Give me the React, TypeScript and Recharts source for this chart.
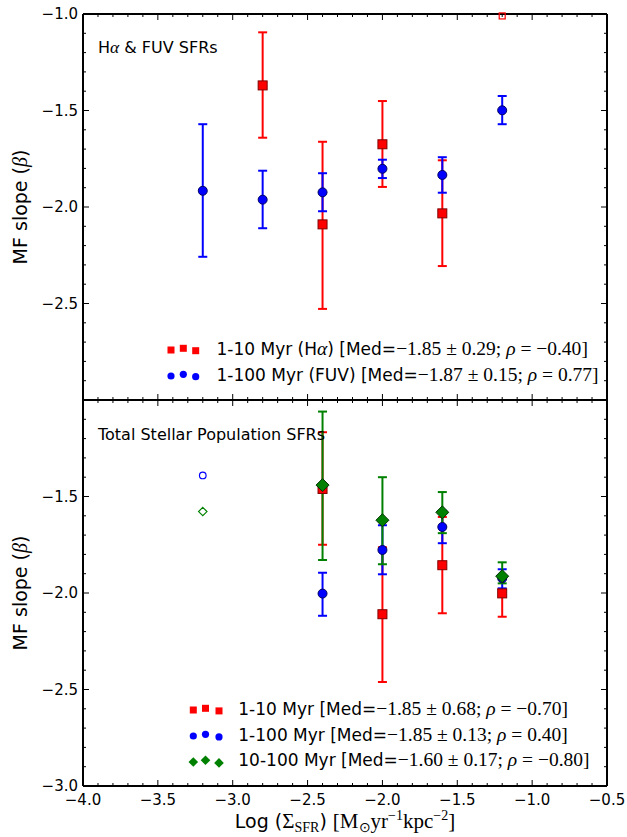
import React from 'react';
import { ScatterChart, Scatter, XAxis, YAxis, ErrorBar } from 'recharts';

const W = 627;
const H = 837;
const PLOT_LEFT = 83;
const PLOT_RIGHT = 607;
const TOP_PANEL = [14, 400];
const BOT_PANEL = [400, 786];

const SANS = '"DejaVu Sans", sans-serif';
const SERIF = '"Liberation Serif", serif';

// x axis: log Sigma_SFR
const X_DOMAIN = [-4.0, -0.5];
const X_MAJOR = [-4.0, -3.5, -3.0, -2.5, -2.0, -1.5, -1.0, -0.5];
const Y_DOMAIN = [-3.0, -1.0];
const Y_MAJOR = [-3.0, -2.5, -2.0, -1.5, -1.0];
const TOP_Y_LABELS = [-2.5, -2.0, -1.5, -1.0];
const BOT_Y_LABELS = [-3.0, -2.5, -2.0, -1.5];

// top panel: H-alpha (1-10 Myr)
const TOP_HA_X = [-2.8, -2.4, -2.0, -1.6];
const TOP_HA_Y = [-1.37, -2.09, -1.675, -2.033];
const TOP_HA_LO = [-1.641, -2.528, -1.896, -2.306];
const TOP_HA_HI = [-1.095, -1.662, -1.451, -1.758];
const TOP_HA_OPEN_X = [-1.2];
const TOP_HA_OPEN_Y = [-1.01];

// top panel: FUV (1-100 Myr)
const TOP_FUV_X = [-3.2, -2.8, -2.4, -2.0, -1.6, -1.2];
const TOP_FUV_Y = [-1.916, -1.962, -1.924, -1.802, -1.834, -1.499];
const TOP_FUV_LO = [-2.258, -2.11, -2.022, -1.85, -1.926, -1.571];
const TOP_FUV_HI = [-1.571, -1.812, -1.825, -1.755, -1.742, -1.425];

// bottom panel: total stellar population
const BOT_X = [-2.4, -2.0, -1.6, -1.2];
const BOT_R_Y = [-1.461, -2.11, -1.856, -2.002];
const BOT_R_LO = [-1.75, -2.461, -2.105, -2.123];
const BOT_R_HI = [-1.167, -1.763, -1.606, -1.98];
const BOT_B_Y = [-2.003, -1.777, -1.658, -1.924];
const BOT_B_LO = [-2.118, -1.903, -1.742, -1.976];
const BOT_B_HI = [-1.895, -1.649, -1.574, -1.877];
const BOT_G_Y = [-1.441, -1.623, -1.582, -1.913];
const BOT_G_LO = [-1.829, -1.851, -1.69, -1.95];
const BOT_G_HI = [-1.06, -1.4, -1.477, -1.841];
const BOT_OPEN_X = [-3.2];
const BOT_B_OPEN_Y = [-1.391];
const BOT_G_OPEN_Y = [-1.578];

// legend stats
const TOP_MED = ['−1.85', '−1.87'];
const TOP_MED_ERR = ['0.29', '0.15'];
const TOP_RHO = ['−0.40', '0.77'];
const BOT_NAMES = ['1-10 Myr', '1-100 Myr', '10-100 Myr'];
const BOT_MED = ['−1.85', '−1.85', '−1.60'];
const BOT_MED_ERR = ['0.68', '0.13', '0.17'];
const BOT_RHO = ['−0.70', '0.40', '−0.80'];

const RED = '#ff0000';
const BLUE = '#0000ff';
const GREEN = '#008000';

type Row = { x: number; y: number; err?: [number, number] };

function toRows(xs: number[], ys: number[], lo?: number[], hi?: number[]): Row[] {
  return xs.map((x, i) => ({
    x,
    y: ys[i],
    err: lo && hi ? [ys[i] - lo[i], hi[i] - ys[i]] : undefined,
  }));
}

function minorTicks(from: number, to: number): number[] {
  const out: number[] = [];
  for (let k = Math.round(from * 10); k <= Math.round(to * 10); k++) out.push(k / 10);
  return out;
}

const X_TICKS = minorTicks(X_DOMAIN[0], X_DOMAIN[1]);
const Y_TICKS = minorTicks(Y_DOMAIN[0], Y_DOMAIN[1]);

const near = (list: number[], v: number) => list.some((m) => Math.abs(m - v) < 1e-6);
const fmt = (v: number) => v.toFixed(1).replace('-', '−');

function makeTick(side: 'top' | 'bottom' | 'left' | 'right', majors: number[], labelled: number[]) {
  return (props: any) => {
    const { x, y, payload } = props;
    const v = payload.value as number;
    const len = near(majors, v) ? 6 : 3;
    const show = near(labelled, v);
    let line;
    if (side === 'bottom') line = <line x1={x} y1={y} x2={x} y2={y - len} stroke="#000" strokeWidth={1} />;
    else if (side === 'top') line = <line x1={x} y1={y} x2={x} y2={y + len} stroke="#000" strokeWidth={1} />;
    else if (side === 'left') line = <line x1={x} y1={y} x2={x + len} y2={y} stroke="#000" strokeWidth={1} />;
    else line = <line x1={x} y1={y} x2={x - len} y2={y} stroke="#000" strokeWidth={1} />;
    return (
      <g>
        {line}
        {show && side === 'left' && (
          <text x={x - 5} y={y} dy="0.36em" textAnchor="end" fontFamily={SANS} fontSize={15} fill="#000">
            {fmt(v)}
          </text>
        )}
        {show && side === 'bottom' && (
          <text x={x} y={y + 19} textAnchor="middle" fontFamily={SANS} fontSize={15} fill="#000">
            {fmt(v)}
          </text>
        )}
      </g>
    );
  };
}

const RedSquare = (p: any) => (
  <rect x={p.cx - 4.5} y={p.cy - 4.5} width={9} height={9} fill={RED} stroke="#800000" strokeWidth={1} />
);
const BlueCircle = (p: any) => <circle cx={p.cx} cy={p.cy} r={4.5} fill={BLUE} stroke="#000060" strokeWidth={1} />;
const GreenDiamond = (p: any) => (
  <path
    d={`M${p.cx},${p.cy - 6.5}L${p.cx + 6.5},${p.cy}L${p.cx},${p.cy + 6.5}L${p.cx - 6.5},${p.cy}Z`}
    fill={GREEN}
    stroke="#003300"
    strokeWidth={1}
  />
);
const OpenSquare = (p: any) => (
  <rect x={p.cx - 3} y={p.cy - 3} width={6} height={6} fill="none" stroke={RED} strokeWidth={1.2} />
);
const OpenCircle = (p: any) => <circle cx={p.cx} cy={p.cy} r={3.3} fill="none" stroke={BLUE} strokeWidth={1.2} />;
const OpenDiamond = (p: any) => (
  <path
    d={`M${p.cx},${p.cy - 4.2}L${p.cx + 4.2},${p.cy}L${p.cx},${p.cy + 4.2}L${p.cx - 4.2},${p.cy}Z`}
    fill="none"
    stroke={GREEN}
    strokeWidth={1.2}
  />
);
const Nothing = () => <g />;

function series(data: Row[], color: string, shape: any, key: string) {
  return (
    <Scatter key={key} xAxisId="b" yAxisId="l" data={data} shape={shape} isAnimationActive={false}>
      {data[0].err && <ErrorBar dataKey="err" direction="y" width={4.5} stroke={color} strokeWidth={2} />}
    </Scatter>
  );
}

function Panel({ band, yLabelled, xLabelled, children }: any) {
  const axisLine = { stroke: '#000', strokeWidth: 2 };
  return (
    <div style={{ position: 'absolute', left: 0, top: 0 }}>
      <ScatterChart width={W} height={H} margin={{ top: 0, right: 0, bottom: 0, left: 0 }}>
        <XAxis
          xAxisId="b"
          type="number"
          dataKey="x"
          orientation="bottom"
          domain={X_DOMAIN}
          ticks={X_TICKS}
          interval={0}
          height={H - band[1]}
          axisLine={axisLine}
          tickLine={false}
          tickSize={0}
          tickMargin={0}
          tick={makeTick('bottom', X_MAJOR, xLabelled ? X_MAJOR : [])}
        />
        <XAxis
          xAxisId="t"
          type="number"
          dataKey="x"
          orientation="top"
          domain={X_DOMAIN}
          ticks={X_TICKS}
          interval={0}
          height={band[0]}
          axisLine={axisLine}
          tickLine={false}
          tickSize={0}
          tickMargin={0}
          tick={makeTick('top', X_MAJOR, [])}
        />
        <YAxis
          yAxisId="l"
          type="number"
          dataKey="y"
          domain={Y_DOMAIN}
          ticks={Y_TICKS}
          interval={0}
          width={PLOT_LEFT}
          axisLine={axisLine}
          tickLine={false}
          tickSize={0}
          tickMargin={0}
          tick={makeTick('left', Y_MAJOR, yLabelled)}
        />
        <YAxis
          yAxisId="r"
          orientation="right"
          type="number"
          dataKey="y"
          domain={Y_DOMAIN}
          ticks={Y_TICKS}
          interval={0}
          width={W - PLOT_RIGHT}
          axisLine={axisLine}
          tickLine={false}
          tickSize={0}
          tickMargin={0}
          tick={makeTick('right', Y_MAJOR, [])}
        />
        {children}
        <Scatter
          xAxisId="t"
          yAxisId="r"
          data={[{ x: -2, y: -2 }]}
          shape={Nothing}
          isAnimationActive={false}
        />
      </ScatterChart>
    </div>
  );
}

function MathText({ children, size = 19.5 }: any) {
  return (
    <tspan fontFamily={SERIF} fontSize={size}>
      {children}
    </tspan>
  );
}

function Stats({ med, err, rho }: { med: string; err: string; rho: string }) {
  const neg = rho.startsWith('−');
  return (
    <MathText>
      {med} ± {err}; <tspan fontStyle="italic">ρ</tspan> = {neg ? ' ' : ''}
      {rho}]
    </MathText>
  );
}

function Overlay() {
  const topMarks = [
    [171, 0],
    [183.3, -1.7],
    [195.7, 0.7],
  ];
  const botMarks = [
    [193.3, 0],
    [205.5, -1.7],
    [219, 0.9],
  ];
  return (
    <svg
      width={W}
      height={H}
      style={{ position: 'absolute', left: 0, top: 0, pointerEvents: 'none', whiteSpace: 'pre' }}
    >
      {/* panel labels */}
      <text x={98} y={53} fontFamily={SANS} fontSize={16} fill="#000">
        H<MathText size={17.5}><tspan fontStyle="italic">α</tspan></MathText> &amp; FUV SFRs
      </text>
      <text x={98} y={440} fontFamily={SANS} fontSize={16} fill="#000">
        Total Stellar Population SFRs
      </text>

      {/* top legend */}
      {topMarks.map(([x, dy], i) => (
        <rect key={'tr' + i} x={x - 3.5} y={350 + dy - 3.5} width={7} height={7} fill={RED} />
      ))}
      {topMarks.map(([x, dy], i) => (
        <circle key={'tb' + i} cx={x} cy={376 + dy} r={3.6} fill={BLUE} />
      ))}
      <text x={216.5} y={355} fontFamily={SANS} fontSize={17} fill="#000">
        1-10 Myr (H<MathText><tspan fontStyle="italic">α</tspan></MathText>) [Med=
        <Stats med={TOP_MED[0]} err={TOP_MED_ERR[0]} rho={TOP_RHO[0]} />
      </text>
      <text x={216.5} y={381} fontFamily={SANS} fontSize={17} fill="#000">
        1-100 Myr (FUV) [Med=
        <Stats med={TOP_MED[1]} err={TOP_MED_ERR[1]} rho={TOP_RHO[1]} />
      </text>

      {/* bottom legend */}
      {botMarks.map(([x, dy], i) => (
        <rect key={'br' + i} x={x - 3.5} y={710 + dy - 3.5} width={7} height={7} fill={RED} />
      ))}
      {botMarks.map(([x, dy], i) => (
        <circle key={'bb' + i} cx={x} cy={736 + dy} r={3.6} fill={BLUE} />
      ))}
      {botMarks.map(([x, dy], i) => (
        <path
          key={'bg' + i}
          d={`M${x},${762 + dy - 4.8}L${x + 4.8},${762 + dy}L${x},${762 + dy + 4.8}L${x - 4.8},${762 + dy}Z`}
          fill={GREEN}
        />
      ))}
      {BOT_NAMES.map((name, i) => (
        <text key={name} x={238.3} y={715 + i * 25.5} fontFamily={SANS} fontSize={17} fill="#000">
          {name} [Med=
          <Stats med={BOT_MED[i]} err={BOT_MED_ERR[i]} rho={BOT_RHO[i]} />
        </text>
      ))}

      {/* axis labels */}
      {[TOP_PANEL, BOT_PANEL].map((band, i) => {
        const cy = (band[0] + band[1]) / 2;
        return (
          <text
            key={'yl' + i}
            x={27}
            y={cy}
            textAnchor="middle"
            transform={`rotate(-90 27 ${cy})`}
            fontFamily={SANS}
            fontSize={19}
            fill="#000"
          >
            MF slope (<MathText size={20}><tspan fontStyle="italic">β</tspan></MathText>)
          </text>
        );
      })}
      <text x={(PLOT_LEFT + PLOT_RIGHT) / 2} y={828} textAnchor="middle" fontFamily={SANS} fontSize={19} fill="#000">
        Log (<MathText size={21}>Σ</MathText>
        <tspan fontFamily={SERIF} fontSize={14} dy={4}>SFR</tspan>
        <tspan dy={-4}>) </tspan>
        <MathText size={21}>[M</MathText>
        <tspan fontFamily={SERIF} fontSize={14} dy={4}>⊙</tspan>
        <tspan fontFamily={SERIF} fontSize={21} dy={-4}>yr</tspan>
        <tspan fontFamily={SERIF} fontSize={14} dy={-8}>−1</tspan>
        <tspan fontFamily={SERIF} fontSize={21} dy={8}>kpc</tspan>
        <tspan fontFamily={SERIF} fontSize={14} dy={-8}>−2</tspan>
        <tspan fontFamily={SERIF} fontSize={21} dy={8}>]</tspan>
      </text>
    </svg>
  );
}

export default function App() {
  const topHa = toRows(TOP_HA_X, TOP_HA_Y, TOP_HA_LO, TOP_HA_HI);
  const topHaOpen = toRows(TOP_HA_OPEN_X, TOP_HA_OPEN_Y);
  const topFuv = toRows(TOP_FUV_X, TOP_FUV_Y, TOP_FUV_LO, TOP_FUV_HI);
  const botR = toRows(BOT_X, BOT_R_Y, BOT_R_LO, BOT_R_HI);
  const botB = toRows(BOT_X, BOT_B_Y, BOT_B_LO, BOT_B_HI);
  const botG = toRows(BOT_X, BOT_G_Y, BOT_G_LO, BOT_G_HI);
  const botBOpen = toRows(BOT_OPEN_X, BOT_B_OPEN_Y);
  const botGOpen = toRows(BOT_OPEN_X, BOT_G_OPEN_Y);

  return (
    <div style={{ position: 'absolute', left: 0, top: 0, width: W, height: H, background: '#fff' }}>
      <Panel band={TOP_PANEL} yLabelled={TOP_Y_LABELS} xLabelled={false}>
        {series(topHa, RED, RedSquare, 'ha')}
        {series(topHaOpen, RED, OpenSquare, 'haopen')}
        {series(topFuv, BLUE, BlueCircle, 'fuv')}
      </Panel>
      <Panel band={BOT_PANEL} yLabelled={BOT_Y_LABELS} xLabelled={true}>
        {series(botR, RED, RedSquare, 'r')}
        {series(botB, BLUE, BlueCircle, 'b')}
        {series(botG, GREEN, GreenDiamond, 'g')}
        {series(botBOpen, BLUE, OpenCircle, 'bopen')}
        {series(botGOpen, GREEN, OpenDiamond, 'gopen')}
      </Panel>
      <Overlay />
    </div>
  );
}
